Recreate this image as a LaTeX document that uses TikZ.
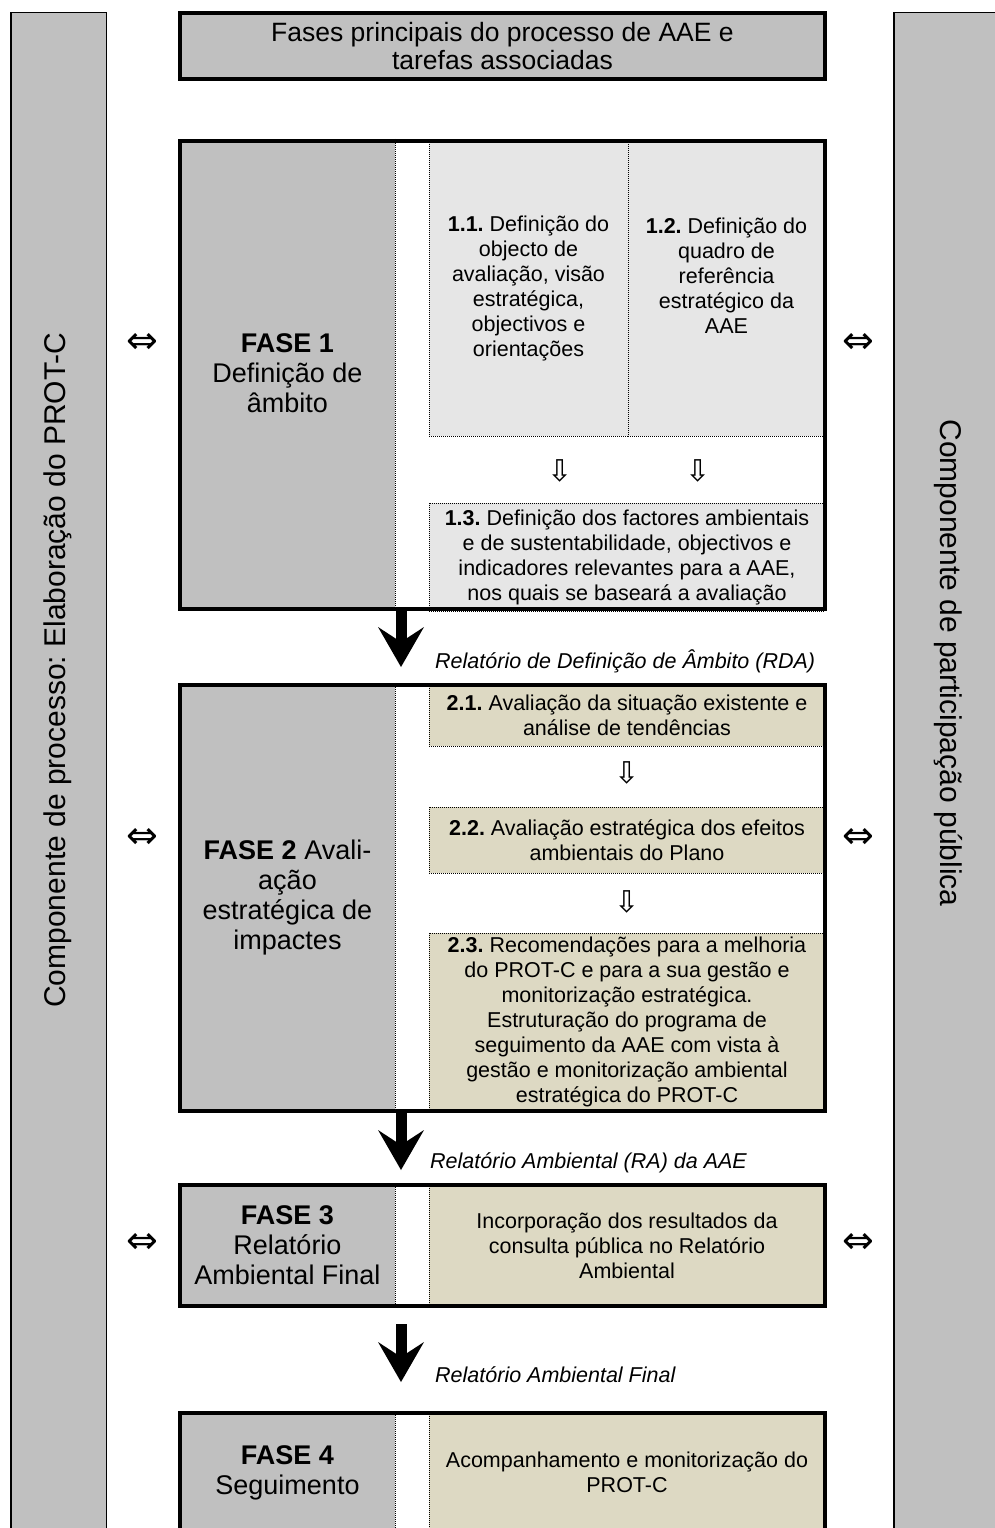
\documentclass[tikz,border=0pt]{standalone}
\usepackage{fontspec}
\setmainfont{Liberation Sans}
\newfontfamily\symfont{DejaVu Sans}
\usetikzlibrary{arrows.meta}
\definecolor{barfill}{HTML}{C0C0C0}
\definecolor{taskgray}{HTML}{E6E6E6}
\definecolor{tasktan}{HTML}{DDD9C3}
\frenchspacing

\begin{document}
\begin{tikzpicture}[x=1pt, y=-1pt,
  every node/.style={inner sep=0pt, align=center},
  sidebar/.style={draw, line width=1.5pt, fill=barfill},
  sidetext/.style={font=\fontsize{30pt}{34pt}\selectfont},
  headbox/.style={draw, line width=3.5pt, fill=barfill, font=\fontsize{26.5pt}{28pt}\selectfont},
  phasebox/.style={draw, line width=4pt},
  phasecol/.style={fill=barfill, font=\fontsize{27pt}{30pt}\selectfont},
  dotline/.style={dash pattern=on 1pt off 1pt, line width=1pt},
  taskbox/.style={draw, dotline, font=\fontsize{21.5pt}{25pt}\selectfont},
  bothsym/.style={font=\symfont\fontsize{38pt}{38pt}\selectfont},
  downsym/.style={font=\symfont\fontsize{30pt}{30pt}\selectfont},
  outlabel/.style={anchor=base west, font=\fontsize{21.5pt}{25pt}\selectfont\itshape},
  bigarrow/.style={line width=11pt, -{Stealth[width=46pt, length=40pt, inset=15pt, line width=0pt]}}]
\useasboundingbox (0,0) rectangle (994,1528);

\node[sidebar, minimum width=95.5pt, minimum height=1540pt] (procbar) at (58.5,782.75) {};
\node[sidebar, minimum width=120pt, minimum height=1540pt] (partbar) at (953.75,782.75) {};
\node[sidetext, rotate=90] (proctext) at (58,670) {Componente de processo: Elaboração do PROT-C};
\node[sidetext, rotate=-90] (parttext) at (948,663) {Componente de participação pública};

\node[headbox, minimum width=645pt, minimum height=66pt] (head) at (502.5,46) {Fases principais do processo de AAE e\\tarefas associadas};

\node[phasecol, minimum width=215pt, minimum height=468pt] (col1) at (287.5,373) {\textbf{FASE 1}\\Definição de\\âmbito};
\draw[dotline] (col1.north east) -- (col1.south east);
\node[taskbox, fill=taskgray, minimum width=199pt, minimum height=295pt] (t11) at (528.5,288.5) {\textbf{1.1.} Definição do\\objecto de\\avaliação, visão\\estratégica,\\objectivos e\\orientações};
\node[taskbox, fill=taskgray, minimum width=197pt, minimum height=295pt] (t12) at (726.5,288.5) {\textbf{1.2.} Definição do\\quadro de\\referência\\estratégico da\\AAE\\\mbox{}};
\node[downsym] (d11) at (560,471) {⇩};
\node[downsym] (d12) at (698,471) {⇩};
\node[taskbox, fill=taskgray, minimum width=396pt, minimum height=108pt] (t13) at (627,557) {\textbf{1.3.} Definição dos factores ambientais\\e de sustentabilidade, objectivos e\\indicadores relevantes para a AAE,\\nos quais se baseará a avaliação};
\node[phasebox, minimum width=645pt, minimum height=468pt] (ph1) at (502.5,375) {};

\node[phasecol, minimum width=215pt, minimum height=426pt] (col2) at (287.5,898) {\textbf{FASE 2} Avali-\\ação\\estratégica de\\impactes};
\draw[dotline] (col2.north east) -- (col2.south east);
\node[taskbox, fill=tasktan, minimum width=396pt, minimum height=61pt] (t21) at (627,715.5) {\textbf{2.1.} Avaliação da situação existente e\\análise de tendências};
\node[downsym] (d21) at (627,773) {⇩};
\node[taskbox, fill=tasktan, minimum width=396pt, minimum height=66pt] (t22) at (627,840) {\textbf{2.2.} Avaliação estratégica dos efeitos\\ambientais do Plano};
\node[downsym] (d22) at (627,902) {⇩};
\node[taskbox, fill=tasktan, minimum width=396pt, minimum height=178pt] (t23) at (627,1022) {\textbf{2.3.} Recomendações para a melhoria\\do PROT-C e para a sua gestão e\\monitorização estratégica.\\Estruturação do programa de\\seguimento da AAE com vista à\\gestão e monitorização ambiental\\estratégica do PROT-C};
\node[phasebox, minimum width=645pt, minimum height=426pt] (ph2) at (502.5,898) {};

\node[phasecol, minimum width=215pt, minimum height=121pt] (col3) at (287.5,1245.5) {\textbf{FASE 3}\\Relatório\\Ambiental Final};
\draw[dotline] (col3.north east) -- (col3.south east);
\node[taskbox, fill=tasktan, minimum width=396pt, minimum height=121pt] (t31) at (627,1245.5) {Incorporação dos resultados da\\consulta pública no Relatório\\Ambiental};
\node[phasebox, minimum width=645pt, minimum height=121pt] (ph3) at (502.5,1245.5) {};

\node[phasecol, minimum width=215pt, minimum height=119pt] (col4) at (287.5,1472.5) {\textbf{FASE 4}\\Seguimento};
\draw[dotline] (col4.north east) -- (col4.south east);
\node[taskbox, fill=tasktan, minimum width=396pt, minimum height=119pt] (t41) at (627,1472.5) {Acompanhamento e monitorização do\\PROT-C};
\node[phasebox, minimum width=645pt, minimum height=119pt] (ph4) at (502.5,1472.5) {};

\draw[bigarrow, shorten >=16pt] ([xshift=-101.5pt]ph1.south) -- ([xshift=-101.5pt]ph2.north);
\draw[bigarrow, shorten >=13pt] ([xshift=-101.5pt]ph2.south) -- ([xshift=-101.5pt]ph3.north);
\draw[bigarrow, shorten <=16pt, shorten >=29pt] ([xshift=-101.5pt]ph3.south) -- ([xshift=-101.5pt]ph4.north);
\node[outlabel] (rda) at (435,668) {Relatório de Definição de Âmbito (RDA)};
\node[outlabel] (ra) at (430,1168) {Relatório Ambiental (RA) da AAE};
\node[outlabel] (raf) at (435,1382) {Relatório Ambiental Final};

\node[bothsym] (lx1) at (142,343) {⇔};
\node[bothsym] (rx1) at (858,343) {⇔};
\node[bothsym] (lx2) at (142,838) {⇔};
\node[bothsym] (rx2) at (858,838) {⇔};
\node[bothsym] (lx3) at (142,1243) {⇔};
\node[bothsym] (rx3) at (858,1243) {⇔};
\end{tikzpicture}
\end{document}
